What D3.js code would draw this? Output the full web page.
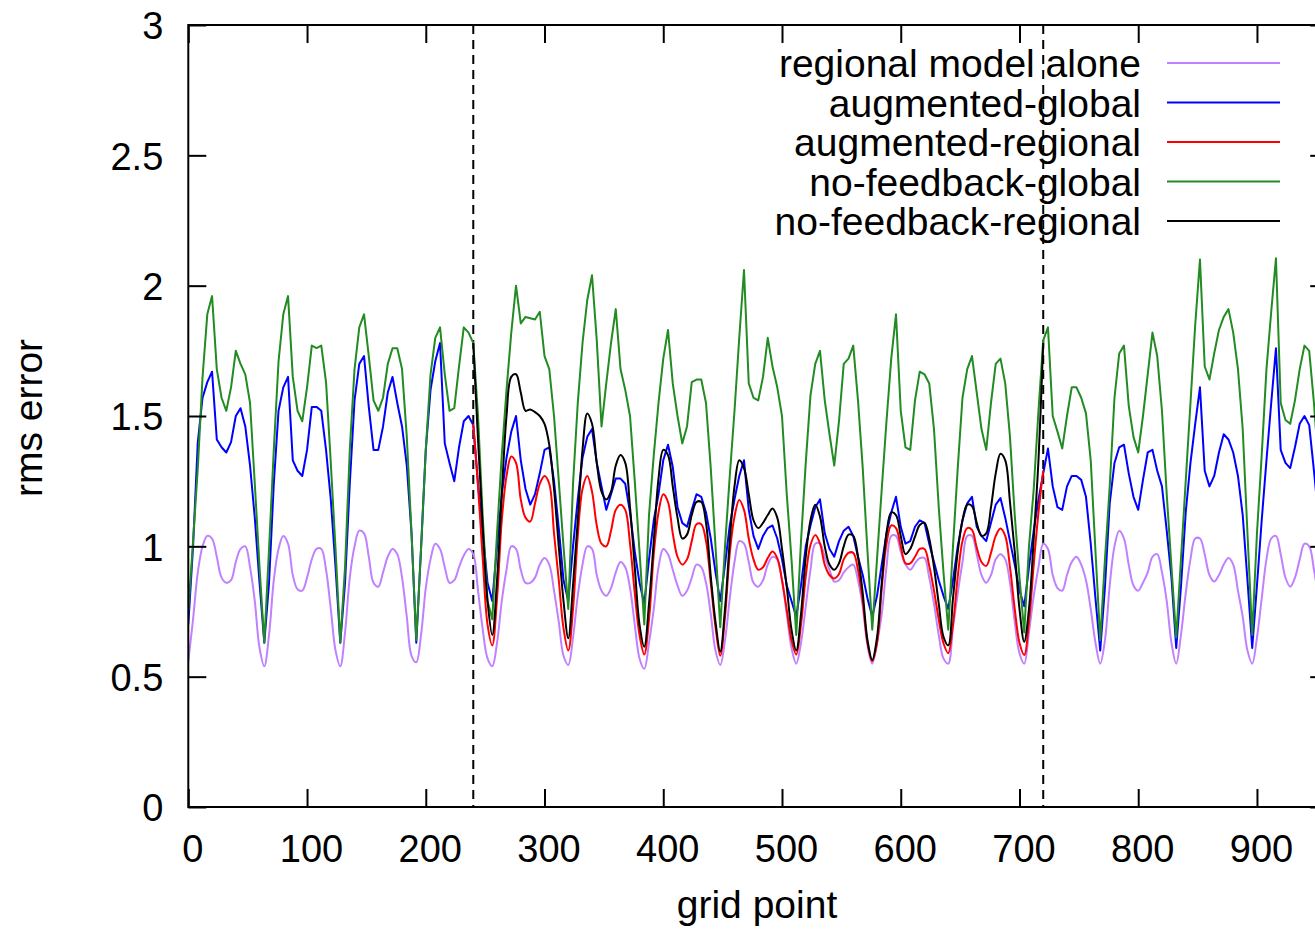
<!DOCTYPE html>
<html>
<head>
<meta charset="utf-8">
<script src="https://cdn.jsdelivr.net/npm/d3@7"></script>
<style>
html,body{margin:0;padding:0;background:#fff;}
svg{display:block;font-family:"Liberation Sans",Arial,Helvetica,sans-serif;}
</style>
</head>
<body>
<svg id="chart" width="1315" height="930"></svg>
<script>
// ---------- data ----------
const seriesNames = ["regional model alone","augmented-global","augmented-regional","no-feedback-global","no-feedback-regional"];
const seriesColors = ["#c080ff","#0000ff","#ff0000","#228b22","#000000"];
const xTicks = [0,100,200,300,400,500,600,700,800,900];
const yTicks = [0,0.5,1,1.5,2,2.5,3];
const yTickLabels = ["0","0.5","1","1.5","2","2.5","3"];
const regionBounds = [240,720];

// global model grid (every 4 regional points) 0..952
const globalGrid = d3.range(0, 953, 4);
// regional grid inside 240..720 (every 4 points)
const regionalGrid = d3.range(240, 721, 4);
// regional model alone grid 0..952
const aloneGrid = d3.range(0, 953, 4);

const noFeedbackGlobal = [
 0.75,1.02,1.30,1.65,1.89,1.96,1.68,1.57,1.52,1.61,1.75,1.70,1.66,1.55,1.24,0.92,
 0.63,0.99,1.37,1.71,1.89,1.96,1.65,1.52,1.48,1.61,1.77,1.76,1.77,1.63,1.32,0.99,
 0.63,0.92,1.37,1.68,1.84,1.89,1.73,1.56,1.52,1.57,1.70,1.76,1.76,1.68,1.42,1.05,
 0.64,0.99,1.37,1.66,1.80,1.84,1.66,1.52,1.53,1.69,1.84,1.82,1.78,1.50,1.11,0.79,
 0.72,1.05,1.35,1.60,1.82,2.00,1.855,1.88,1.875,1.87,1.90,1.73,1.68,1.50,1.25,1.00,
 0.76,1.24,1.55,1.78,1.945,2.04,1.79,1.46,1.625,1.78,1.91,1.68,1.60,1.50,1.25,0.98,
 0.70,1.12,1.35,1.55,1.72,1.83,1.625,1.50,1.395,1.46,1.63,1.64,1.64,1.55,1.30,1.00,
 0.69,1.00,1.27,1.52,1.80,2.06,1.625,1.57,1.56,1.65,1.80,1.69,1.61,1.50,1.20,0.95,
 0.66,1.02,1.32,1.58,1.70,1.75,1.56,1.43,1.31,1.48,1.70,1.72,1.77,1.56,1.30,0.98,
 0.68,0.95,1.22,1.48,1.72,1.89,1.52,1.38,1.37,1.56,1.67,1.66,1.625,1.45,1.15,0.90,
 0.68,1.00,1.30,1.57,1.68,1.73,1.59,1.45,1.37,1.55,1.70,1.72,1.625,1.42,1.12,0.88,
 0.67,1.00,1.22,1.52,1.79,1.84,1.50,1.44,1.375,1.50,1.61,1.61,1.57,1.51,1.33,0.98,
 0.64,0.95,1.23,1.57,1.74,1.77,1.54,1.42,1.36,1.50,1.66,1.82,1.73,1.52,1.20,0.92,
 0.65,0.95,1.25,1.55,1.85,2.10,1.69,1.64,1.74,1.83,1.88,1.91,1.82,1.68,1.45,1.05,
 0.66,1.05,1.35,1.68,1.90,2.105,1.55,1.485,1.47,1.56,1.68,1.77,1.75,1.55,1.30
];

const augmentedGlobal = [
 0.70,1.00,1.40,1.57,1.63,1.67,1.41,1.38,1.36,1.40,1.50,1.53,1.46,1.31,1.11,0.86,
 0.63,0.86,1.24,1.52,1.61,1.65,1.33,1.29,1.27,1.37,1.535,1.535,1.52,1.37,1.18,0.92,
 0.63,0.86,1.24,1.56,1.70,1.73,1.535,1.37,1.37,1.46,1.59,1.65,1.55,1.46,1.31,1.05,
 0.63,0.99,1.37,1.60,1.71,1.78,1.395,1.32,1.25,1.38,1.48,1.50,1.465,1.24,1.05,0.86,
 0.79,1.00,1.20,1.34,1.44,1.50,1.33,1.22,1.16,1.20,1.28,1.37,1.38,1.25,1.07,0.87,
 0.79,1.00,1.18,1.34,1.42,1.45,1.32,1.23,1.14,1.20,1.26,1.26,1.24,1.13,0.98,0.86,
 0.78,0.95,1.10,1.20,1.33,1.39,1.305,1.15,1.09,1.075,1.14,1.20,1.19,1.13,1.03,0.90,
 0.79,0.93,1.08,1.18,1.27,1.33,1.14,1.04,0.99,1.04,1.07,1.08,1.03,0.95,0.85,0.79,
 0.73,0.85,1.00,1.08,1.15,1.18,1.05,0.99,0.96,1.02,1.06,1.075,1.04,0.96,0.89,0.80,
 0.73,0.81,0.93,1.05,1.13,1.19,1.075,1.01,1.02,1.075,1.10,1.09,1.01,0.94,0.87,0.81,
 0.76,0.87,1.00,1.10,1.165,1.19,1.075,1.04,1.02,1.09,1.16,1.185,1.11,1.02,0.93,0.83,
 0.77,0.92,1.06,1.18,1.28,1.375,1.23,1.15,1.14,1.23,1.27,1.27,1.255,1.19,1.01,0.80,
 0.60,0.845,1.165,1.32,1.38,1.39,1.28,1.19,1.14,1.255,1.36,1.37,1.29,1.23,1.06,0.88,
 0.61,0.845,1.13,1.32,1.47,1.61,1.29,1.23,1.27,1.36,1.43,1.41,1.36,1.27,1.12,0.87,
 0.61,0.85,1.10,1.33,1.55,1.76,1.37,1.32,1.30,1.38,1.47,1.50,1.465,1.29,1.10
];

const regionalAlone = [
 0.56,0.72,0.90,1.00,1.04,1.03,0.96,0.88,0.86,0.87,0.94,0.99,1.00,0.92,0.79,0.61,
 0.54,0.66,0.87,0.99,1.04,1.01,0.89,0.835,0.83,0.88,0.95,0.99,0.99,0.91,0.76,0.60,
 0.54,0.67,0.88,1.00,1.06,1.05,0.96,0.86,0.845,0.90,0.96,0.99,0.97,0.88,0.73,0.58,
 0.555,0.66,0.84,0.95,1.01,0.99,0.92,0.86,0.87,0.92,0.965,0.99,0.97,0.83,0.68,0.57,
 0.54,0.63,0.79,0.91,1.00,0.99,0.91,0.86,0.86,0.88,0.93,0.955,0.93,0.83,0.71,0.58,
 0.545,0.65,0.81,0.93,1.00,0.99,0.89,0.83,0.81,0.84,0.90,0.94,0.92,0.84,0.70,0.57,
 0.53,0.63,0.76,0.92,0.99,0.97,0.91,0.85,0.81,0.83,0.88,0.93,0.92,0.86,0.74,0.60,
 0.545,0.64,0.80,0.94,1.02,1.01,0.94,0.86,0.845,0.87,0.93,0.96,0.95,0.87,0.74,0.61,
 0.55,0.63,0.77,0.91,1.01,1.01,0.96,0.91,0.865,0.87,0.90,0.92,0.93,0.87,0.77,0.62,
 0.55,0.63,0.74,0.92,1.04,1.04,0.98,0.93,0.91,0.935,0.955,0.955,0.88,0.78,0.66,0.57,
 0.55,0.69,0.82,0.94,1.04,1.04,0.97,0.89,0.86,0.89,0.95,0.97,0.95,0.86,0.71,0.59,
 0.55,0.67,0.81,0.92,1.01,0.99,0.89,0.84,0.83,0.89,0.94,0.96,0.93,0.87,0.76,0.63,
 0.55,0.64,0.85,1.00,1.06,1.03,0.93,0.85,0.83,0.86,0.90,0.96,0.97,0.90,0.79,0.63,
 0.55,0.66,0.82,0.95,1.03,1.03,0.97,0.89,0.865,0.89,0.93,0.955,0.93,0.83,0.73,0.60,
 0.55,0.65,0.80,0.95,1.03,1.04,0.97,0.88,0.845,0.88,0.95,1.01,1.00,0.91,0.80
];

const augmentedRegional = [
 1.47,1.23,0.95,0.70,
 0.62,0.80,1.10,1.27,1.345,1.32,1.18,1.11,1.095,1.165,1.24,1.27,1.24,1.05,0.87,0.685,
 0.60,0.76,1.04,1.22,1.27,1.21,1.08,1.01,1.00,1.06,1.14,1.16,1.14,1.01,0.82,0.66,
 0.585,0.72,0.97,1.13,1.20,1.17,1.05,0.96,0.93,0.95,1.02,1.085,1.085,1.02,0.86,0.69,
 0.58,0.73,0.973,1.114,1.178,1.14,1.03,0.95,0.91,0.92,0.955,0.98,0.955,0.87,0.756,0.64,
 0.585,0.70,0.884,1.005,1.043,1.011,0.93,0.89,0.877,0.894,0.95,0.975,0.975,0.91,0.79,0.63,
 0.56,0.627,0.84,1.011,1.08,1.07,1.00,0.935,0.935,0.96,0.99,0.99,0.925,0.83,0.72,0.628,
 0.59,0.70,0.884,1.02,1.07,1.063,0.995,0.94,0.925,0.975,1.04,1.068,1.04,0.92,0.76,0.63,
 0.583,0.71,0.93,1.13,1.29
];

const noFeedbackRegional = [
 1.78,1.41,1.07,0.79,
 0.66,0.87,1.20,1.50,1.65,1.66,1.59,1.52,1.525,1.515,1.50,1.47,1.39,1.22,1.00,0.79,
 0.647,0.85,1.10,1.37,1.51,1.47,1.32,1.21,1.18,1.21,1.31,1.35,1.32,1.15,0.92,0.70,
 0.615,0.78,1.02,1.26,1.37,1.35,1.23,1.11,1.03,1.045,1.12,1.17,1.17,1.09,0.885,0.71,
 0.596,0.76,1.02,1.23,1.33,1.30,1.20,1.10,1.07,1.09,1.12,1.145,1.11,0.99,0.845,0.68,
 0.60,0.74,0.96,1.10,1.16,1.114,1.00,0.93,0.91,0.935,1.00,1.045,1.04,0.96,0.82,0.64,
 0.564,0.65,0.86,1.05,1.13,1.12,1.04,0.97,0.99,1.037,1.082,1.09,1.03,0.92,0.78,0.653,
 0.62,0.80,0.98,1.10,1.16,1.155,1.09,1.04,1.05,1.15,1.28,1.355,1.33,1.17,0.98,0.76,
 0.634,0.76,1.03,1.33,1.78
];

// ---------- layout ----------
const W = 1315, H = 930;
const svg = d3.select("#chart");
const plotLeft = 188.3, plotTop = 25, plotBottom = 807;
const x = d3.scaleLinear().domain([0,960]).range([plotLeft, plotLeft + 960*1.1874]);
const y = d3.scaleLinear().domain([0,3]).range([plotBottom, plotTop]);
const plotRight = x(960);
const FS = 38;

svg.append("defs").append("clipPath").attr("id","clip")
  .append("rect").attr("x",plotLeft).attr("y",plotTop)
  .attr("width",plotRight-plotLeft).attr("height",plotBottom-plotTop);

// dashed region boundaries
svg.append("g").selectAll("line").data(regionBounds).join("line")
  .attr("x1",d=>x(d)).attr("x2",d=>x(d))
  .attr("y1",plotTop).attr("y2",plotBottom)
  .attr("stroke","#000").attr("stroke-width",2)
  .attr("stroke-dasharray","9,6");

// series
const mk = (xs, vs) => xs.map((g,i)=>[g, vs[i]]).filter(d=>d[1]!==undefined);
const series = [
  {pts: mk(aloneGrid, regionalAlone), curve: d3.curveCatmullRom.alpha(0.5)},
  {pts: mk(globalGrid, augmentedGlobal), curve: d3.curveLinear},
  {pts: mk(regionalGrid, augmentedRegional), curve: d3.curveCatmullRom.alpha(0.5)},
  {pts: mk(globalGrid, noFeedbackGlobal), curve: d3.curveLinear},
  {pts: mk(regionalGrid, noFeedbackRegional), curve: d3.curveCatmullRom.alpha(0.5)}
];
const gLines = svg.append("g").attr("clip-path","url(#clip)");
series.forEach((s,i)=>{
  const line = d3.line().x(d=>x(d[0])).y(d=>y(d[1])).curve(s.curve);
  gLines.append("path").attr("d", line(s.pts))
    .attr("fill","none").attr("stroke",seriesColors[i])
    .attr("stroke-width",2).attr("stroke-linejoin","round");
});

// axes (gnuplot style: inward ticks, mirrored)
const tickLen = 18;
const axB = d3.axisBottom(x).tickValues(xTicks).tickSizeInner(-tickLen).tickSizeOuter(0).tickPadding(0);
const gB = svg.append("g").attr("transform",`translate(0,${plotBottom})`).call(axB);
gB.select(".domain").remove();
gB.selectAll(".tick line").attr("stroke","#000").attr("stroke-width",2);
gB.selectAll(".tick text").attr("font-size",FS).attr("fill","#000")
  .attr("dy",null).attr("y",55).attr("dx",4).attr("font-family","Liberation Sans, Arial, sans-serif");

const axT = d3.axisTop(x).tickValues(xTicks).tickSizeInner(-tickLen).tickSizeOuter(0).tickFormat("");
const gT = svg.append("g").attr("transform",`translate(0,${plotTop})`).call(axT);
gT.select(".domain").remove();
gT.selectAll(".tick line").attr("stroke","#000").attr("stroke-width",2);

const axL = d3.axisLeft(y).tickValues(yTicks).tickFormat((d,i)=>yTickLabels[i])
  .tickSizeInner(-tickLen).tickSizeOuter(0).tickPadding(0);
const gL = svg.append("g").attr("transform",`translate(${plotLeft},0)`).call(axL);
gL.select(".domain").remove();
gL.selectAll(".tick line").attr("stroke","#000").attr("stroke-width",2);
gL.selectAll(".tick text").attr("font-size",FS).attr("fill","#000")
  .attr("x",-25).attr("dy","0.36em").attr("font-family","Liberation Sans, Arial, sans-serif");

const axR = d3.axisRight(y).tickValues(yTicks).tickSizeInner(-tickLen).tickSizeOuter(0).tickFormat("");
const gR = svg.append("g").attr("transform",`translate(${plotRight},0)`).call(axR);
gR.select(".domain").remove();
gR.selectAll(".tick line").attr("stroke","#000").attr("stroke-width",2);

// border
svg.append("rect").attr("x",plotLeft).attr("y",plotTop)
  .attr("width",plotRight-plotLeft).attr("height",plotBottom-plotTop)
  .attr("fill","none").attr("stroke","#000").attr("stroke-width",2);

// axis titles
svg.append("text").attr("x",757).attr("y",918).attr("text-anchor","middle")
  .attr("font-size",FS+1).attr("fill","#000").text("grid point");
svg.append("text").attr("transform","translate(42,418) rotate(-90)")
  .attr("text-anchor","middle").attr("font-size",FS+1).attr("fill","#000").text("rms error");

// legend
const legY = [63,102.5,142,181.5,221];
const leg = svg.append("g");
seriesNames.forEach((n,i)=>{
  leg.append("text").attr("x",1141).attr("y",legY[i]).attr("dy","0.36em")
    .attr("text-anchor","end").attr("font-size",FS+1).attr("fill","#000").text(n);
  leg.append("line").attr("x1",1167).attr("x2",1280).attr("y1",legY[i]).attr("y2",legY[i])
    .attr("stroke",seriesColors[i]).attr("stroke-width",2);
});
</script>
</body>
</html>
